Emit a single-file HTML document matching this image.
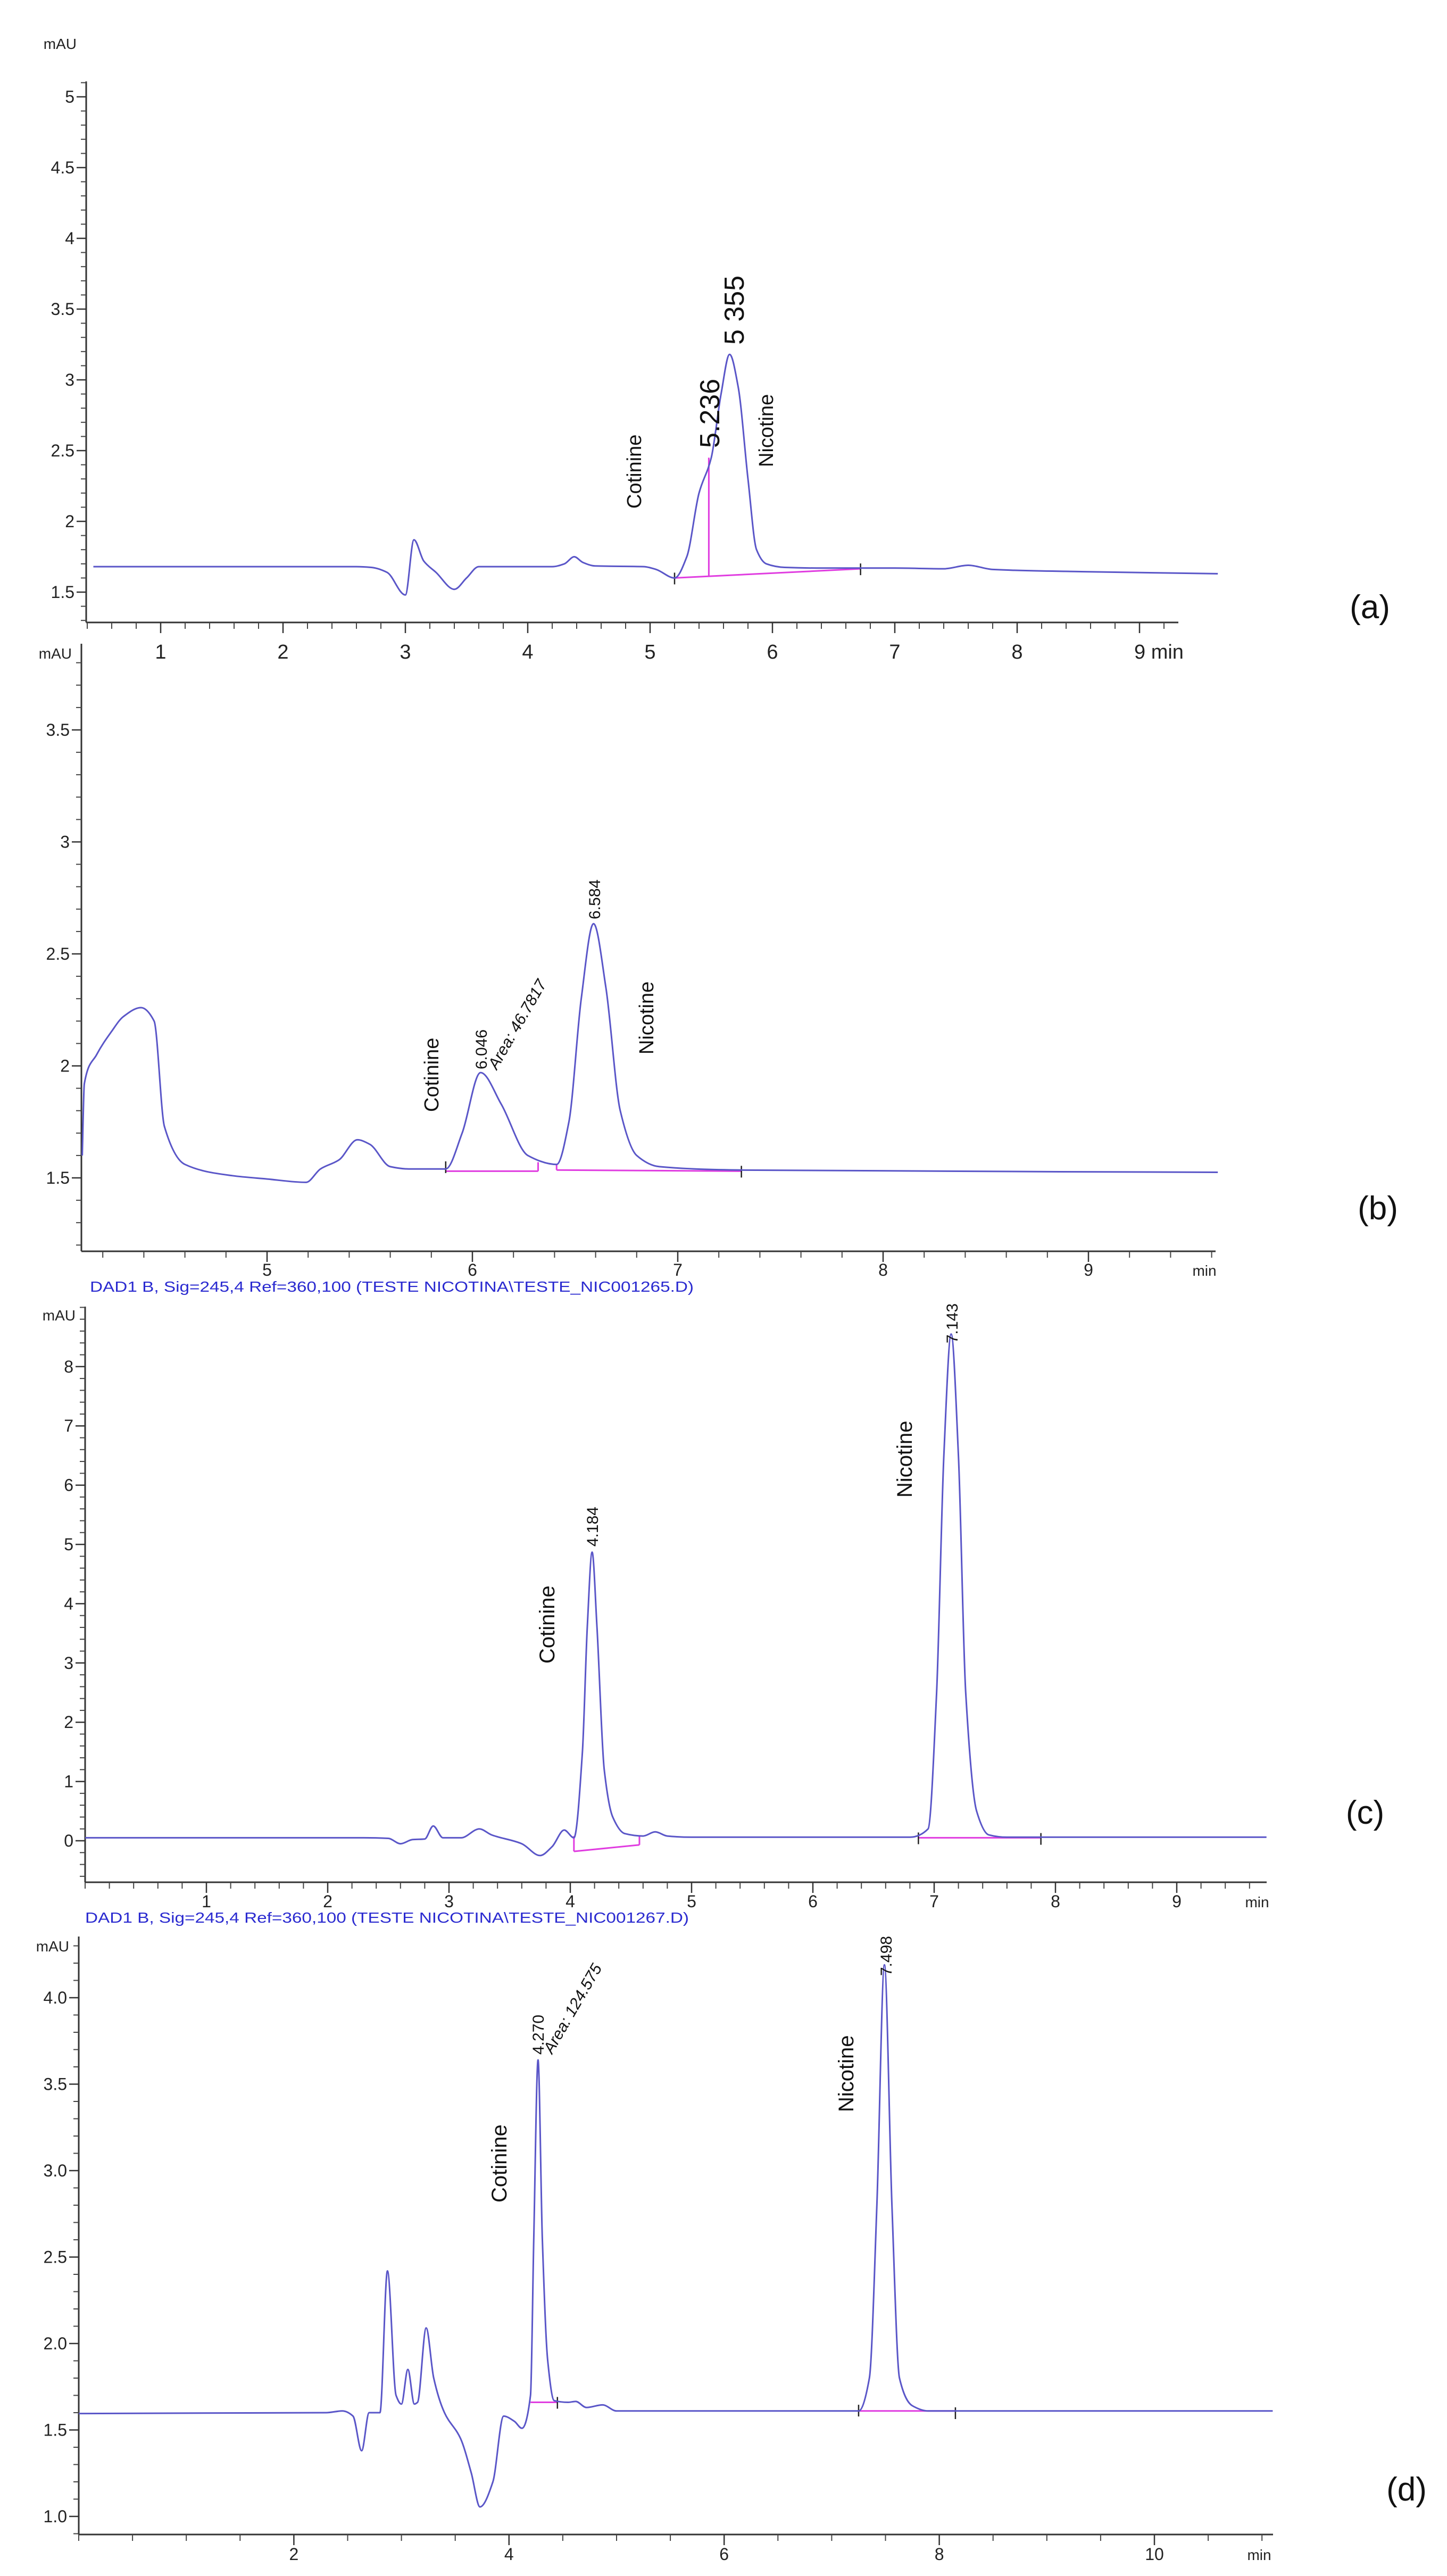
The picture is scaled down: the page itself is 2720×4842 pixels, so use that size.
<!DOCTYPE html>
<html><head><meta charset="utf-8"><title>Chromatograms</title>
<style>
html,body{margin:0;padding:0;background:#fff;}
svg{display:block;}
text{font-family:"Liberation Sans Narrow","Liberation Sans",sans-serif;}
</style></head>
<body>
<svg id="fig" xmlns="http://www.w3.org/2000/svg" width="2720" height="4842" viewBox="0 0 2720 4842"></svg>
<script>
// ---------- Panel (a) data ----------
const aTimes = [0.45,2.6,2.72,2.85,3.0,3.07,3.15,3.25,3.4,3.5,3.6,4.2,4.3,4.38,4.45,4.55,4.95,5.05,5.2,5.3,5.4,5.5,5.58,5.65,5.72,5.8,5.87,5.95,6.1,6.4,7.0,7.4,7.6,7.8,8.5,9.64];
const aValues = [1.68,1.68,1.675,1.64,1.48,1.87,1.72,1.64,1.52,1.6,1.68,1.68,1.7,1.75,1.71,1.685,1.68,1.66,1.6,1.75,2.2,2.45,2.9,3.18,2.95,2.3,1.8,1.7,1.675,1.67,1.67,1.665,1.69,1.66,1.645,1.63];
const aYTicks = [1.5,2,2.5,3,3.5,4,4.5,5];
const aYTickLabels = ["1.5","2","2.5","3","3.5","4","4.5","5"];
const aXTicks = [1,2,3,4,5,6,7,8,9];
const aXTickLabels = ["1","2","3","4","5","6","7","8","9 min"];
// ---------- Panel (b) data ----------
const bTimes = [4.10,4.11,4.17,4.24,4.3,4.386,4.45,4.5,4.6,4.83,5.0,5.19,5.26,5.35,5.44,5.5,5.6,5.69,5.87,5.95,6.04,6.14,6.27,6.41,6.47,6.53,6.59,6.65,6.72,6.8,6.91,7.31,9.63];
const bValues = [1.6,1.92,2.05,2.15,2.22,2.26,2.2,1.73,1.56,1.51,1.495,1.48,1.54,1.58,1.67,1.65,1.55,1.54,1.54,1.7,1.97,1.83,1.6,1.56,1.75,2.3,2.635,2.35,1.8,1.6,1.55,1.535,1.525];
const bYTicks = [1.5,2,2.5,3,3.5];
const bYTickLabels = ["1.5","2","2.5","3","3.5"];
const bXTicks = [5,6,7,8,9];
const bXTickLabels = ["5","6","7","8","9"];
// ---------- Panel (c) data ----------
const cTimes = [0,2.3,2.5,2.6,2.7,2.8,2.87,2.95,3.1,3.25,3.35,3.6,3.75,3.85,3.95,4.03,4.1,4.14,4.18,4.22,4.28,4.35,4.45,4.6,4.7,4.8,5.0,6.8,6.95,7.02,7.08,7.14,7.2,7.26,7.35,7.45,7.6,9.74];
const cValues = [0.05,0.05,0.04,-0.05,0.02,0.03,0.25,0.05,0.05,0.2,0.1,-0.05,-0.25,-0.1,0.18,0.05,1.5,3.6,4.87,3.6,1.2,0.4,0.12,0.08,0.15,0.08,0.06,0.06,0.2,2.5,6.5,8.55,6.5,2.5,0.5,0.1,0.06,0.06];
const cYTicks = [0,1,2,3,4,5,6,7,8];
const cYTickLabels = ["0","1","2","3","4","5","6","7","8"];
const cXTicks = [1,2,3,4,5,6,7,8,9];
const cXTickLabels = ["1","2","3","4","5","6","7","8","9"];
// ---------- Panel (d) data ----------
const dTimes = [0,2.3,2.45,2.55,2.63,2.7,2.8,2.87,2.95,3.0,3.06,3.12,3.15,3.23,3.3,3.4,3.55,3.65,3.73,3.85,3.95,4.05,4.12,4.2,4.23,4.27,4.31,4.36,4.42,4.55,4.62,4.72,4.87,5.0,7.25,7.35,7.42,7.49,7.56,7.63,7.75,7.9,11.1];
const dValues = [1.595,1.6,1.61,1.58,1.38,1.6,1.6,2.42,1.7,1.65,1.85,1.65,1.66,2.09,1.8,1.6,1.45,1.25,1.055,1.2,1.58,1.55,1.51,1.7,2.6,3.64,2.6,1.9,1.67,1.66,1.665,1.63,1.645,1.61,1.61,1.8,2.8,4.19,2.8,1.8,1.64,1.61,1.61];
const dYTicks = [1.0,1.5,2.0,2.5,3.0,3.5,4.0];
const dYTickLabels = ["1.0","1.5","2.0","2.5","3.0","3.5","4.0"];
const dXTicks = [2,4,6,8,10];
const dXTickLabels = ["2","4","6","8","10"];

const NS = "http://www.w3.org/2000/svg";
const svg = document.getElementById('fig');
function mk(tag, attrs, parent){
  const e = document.createElementNS(NS, tag);
  for (const k in attrs) e.setAttribute(k, attrs[k]);
  (parent||svg).appendChild(e);
  return e;
}
// monotone cubic (Fritsch-Carlson) path in pixel space
function monotonePath(pts){
  const n = pts.length;
  const dx=[], m=[], s=[];
  for (let i=0;i<n-1;i++){ dx[i]=pts[i+1][0]-pts[i][0]; s[i]=(pts[i+1][1]-pts[i][1])/dx[i]; }
  m[0]=s[0]; m[n-1]=s[n-2];
  for (let i=1;i<n-1;i++){
    if (s[i-1]*s[i]<=0) m[i]=0;
    else { const w1=2*dx[i]+dx[i-1], w2=dx[i]+2*dx[i-1]; m[i]=(w1+w2)/(w1/s[i-1]+w2/s[i]); }
  }
  let d="M"+pts[0][0].toFixed(1)+","+pts[0][1].toFixed(1);
  for (let i=0;i<n-1;i++){
    const h=dx[i];
    d+=" C"+(pts[i][0]+h/3).toFixed(1)+","+(pts[i][1]+m[i]*h/3).toFixed(1)+" "+
       (pts[i+1][0]-h/3).toFixed(1)+","+(pts[i+1][1]-m[i+1]*h/3).toFixed(1)+" "+
       pts[i+1][0].toFixed(1)+","+pts[i+1][1].toFixed(1);
  }
  return d;
}

function panel(cfg){
  const g = mk('g', {});
  
  
  const X = t => cfg.x0 + (t - cfg.t0) * cfg.pxPerMin;
  const Y = v => cfg.yRef - (v - cfg.vRef) * cfg.pxPerUnit;
  const ya = mk('line', {x1:cfg.axL, y1:cfg.axT, x2:cfg.axL, y2:cfg.axB, stroke:'#333', 'stroke-width':3}, g);
  
  
  const xa = mk('line', {x1:cfg.axL, y1:cfg.axB, x2:cfg.axR, y2:cfg.axB, stroke:'#333', 'stroke-width':3}, g);
  
  
  const vLo = cfg.vRef + (cfg.yRef - cfg.axB)/cfg.pxPerUnit, vHi = cfg.vRef + (cfg.yRef - cfg.axT)/cfg.pxPerUnit;
  for (let k=Math.ceil(vLo/cfg.yMinor-1e-6); k*cfg.yMinor<=vHi; k++){
    const y = Y(k*cfg.yMinor);
    mk('line', {x1:cfg.axL-10, y1:y, x2:cfg.axL, y2:y, stroke:'#444', 'stroke-width':2}, g);
  }
  cfg.yTicks.forEach((v,i)=>{
    const y = Y(v);
    mk('line', {x1:cfg.axL-18, y1:y, x2:cfg.axL, y2:y, stroke:'#333', 'stroke-width':2.5}, g);
    const t = mk('text', {x:cfg.axL-22, y:y+11, 'font-size':cfg.tickFont, 'text-anchor':'end', fill:'#222'}, g);
    t.textContent = cfg.yTickLabels[i];
    
    
  });
  const mau = mk('text', {x:cfg.axL-18, y:cfg.mauY, 'font-size':cfg.tickFont-4, 'text-anchor':'end', fill:'#222'}, g);
  mau.textContent = 'mAU';
  
  
  const tLo = cfg.t0 + (cfg.axL - cfg.x0)/cfg.pxPerMin, tHi = cfg.t0 + (cfg.axR - cfg.x0)/cfg.pxPerMin;
  for (let k=Math.ceil(tLo/cfg.xMinor-1e-6); k*cfg.xMinor<=tHi; k++){
    const x = X(k*cfg.xMinor);
    mk('line', {x1:x, y1:cfg.axB, x2:x, y2:cfg.axB+12, stroke:'#444', 'stroke-width':2}, g);
  }
  cfg.xTicks.forEach((tv,i)=>{
    const x = X(tv);
    mk('line', {x1:x, y1:cfg.axB, x2:x, y2:cfg.axB+20, stroke:'#333', 'stroke-width':2.5}, g);
    const lab = cfg.xTickLabels[i];
    const t = mk('text', {x:x, y:cfg.xLabY, 'font-size':cfg.xTickFont, 'text-anchor': lab.indexOf('min')>=0 ? 'start':'middle', fill:'#222'}, g);
    if (lab.indexOf('min')>=0) t.setAttribute('x', x-10);
    t.textContent = lab;
    
    
  });
  if (cfg.minX){
    const t = mk('text', {x:cfg.minX, y:cfg.xLabY, 'font-size':cfg.tickFont-4, 'text-anchor':'middle', fill:'#222'}, g);
    t.textContent = 'min';
    
    
  }
  cfg.baselines.forEach(b=>{
    const l = mk('line', {x1:X(b[0]), y1:Y(b[1]), x2:X(b[2]), y2:Y(b[3]), stroke:'#e03ce0', 'stroke-width':3}, g);
    
    
  });
  cfg.marks.forEach(m=>{
    mk('line', {x1:X(m[0]), y1:Y(m[1])-10, x2:X(m[0]), y2:Y(m[1])+12, stroke:'#222', 'stroke-width':2.5}, g);
  });
  const pts = cfg.times.map((t,i)=>[X(t), Y(cfg.values[i])]);
  const p = mk('path', {d:monotonePath(pts), fill:'none', stroke:'#5a56c8', 'stroke-width':3, 'stroke-linejoin':'round'}, g);
  
  
  cfg.labels.forEach(L=>{
    const t = mk('text', {x:0, y:0, 'font-size':L.size, fill:'#111', 'text-anchor':'start',
      transform:'translate('+L.x+','+L.y+') rotate('+L.rot+')', 'font-family':L.font||'"Liberation Sans",sans-serif', 'font-style':L.italic?'italic':'normal'}, g);
    t.textContent = L.text;
    
    
  });
  const pl = mk('text', {x:cfg.plX, y:cfg.plY, 'font-size':62, 'text-anchor':'middle', fill:'#111', 'font-family':'"Liberation Sans",sans-serif'}, g);
  pl.textContent = cfg.panelLabel;
  
  
}

panel({name:'panel-a', x0:302, t0:1, pxPerMin:230, yRef:1113, vRef:1.5, pxPerUnit:266,
  axL:162, axR:2215, axT:153, axB:1170, yMinor:0.1, xMinor:0.2, tickFont:32, xTickFont:38, xLabY:1238, mauY:92,
  times:aTimes, values:aValues, yTicks:aYTicks, yTickLabels:aYTickLabels, xTicks:aXTicks, xTickLabels:aXTickLabels,
  baselines:[[5.2,1.6,6.72,1.665],[5.48,1.61,5.48,2.45]], marks:[[5.2,1.6],[6.72,1.665]],
  labels:[
    {text:'5 355', x:1398, y:648, rot:-90, size:52, dn:'peak-label-5355'},
    {text:'5.236', x:1352, y:842, rot:-90, size:52, dn:'peak-label-5236'},
    {text:'Cotinine', x:1205, y:956, rot:-90, size:38, dn:'cotinine-label'},
    {text:'Nicotine', x:1453, y:878, rot:-90, size:38, dn:'nicotine-label'}],
  panelLabel:'(a)', plX:2575, plY:1162});

panel({name:'panel-b', x0:502, t0:5, pxPerMin:386, yRef:2214, vRef:1.5, pxPerUnit:421,
  axL:153, axR:2285, axT:1210, axB:2352, yMinor:0.1, xMinor:0.2, tickFont:32, xTickFont:32, xLabY:2398, mauY:1238, minX:2264,
  times:bTimes, values:bValues, yTicks:bYTicks, yTickLabels:bYTickLabels, xTicks:bXTicks, xTickLabels:bXTickLabels,
  baselines:[[5.87,1.53,6.32,1.53],[6.32,1.53,6.32,1.57],[6.41,1.535,7.31,1.53],[6.41,1.535,6.41,1.56]], marks:[[5.87,1.55],[7.31,1.53]],
  labels:[
    {text:'6.584', x:1128, y:1728, rot:-90, size:30, dn:'peak-label-6584'},
    {text:'6.046', x:915, y:2010, rot:-90, size:30, dn:'peak-label-6046'},
    {text:'Area: 46.7817', x:934, y:2012, rot:-60, size:30, italic:true, dn:'area-label'},
    {text:'Cotinine', x:824, y:2090, rot:-90, size:38, dn:'cotinine-label'},
    {text:'Nicotine', x:1228, y:1982, rot:-90, size:38, dn:'nicotine-label'}],
  panelLabel:'(b)', plX:2590, plY:2292});

panel({name:'panel-c', x0:160, t0:0, pxPerMin:228, yRef:3460, vRef:0, pxPerUnit:111.4,
  axL:160, axR:2381, axT:2456, axB:3538, yMinor:0.2, xMinor:0.2, tickFont:32, xTickFont:32, xLabY:3585, mauY:2482, minX:2363,
  times:cTimes, values:cValues, yTicks:cYTicks, yTickLabels:cYTickLabels, xTicks:cXTicks, xTickLabels:cXTickLabels,
  baselines:[[4.03,-0.18,4.57,-0.07],[4.03,0.08,4.03,-0.18],[4.57,-0.07,4.57,0.08],[6.87,0.05,7.88,0.05]], marks:[[6.87,0.05],[7.88,0.04]],
  labels:[
    {text:'4.184', x:1124, y:2907, rot:-90, size:30, dn:'peak-label-4184'},
    {text:'7.143', x:1800, y:2525, rot:-90, size:30, dn:'peak-label-7143'},
    {text:'Cotinine', x:1042, y:3127, rot:-90, size:40, dn:'cotinine-label'},
    {text:'Nicotine', x:1714, y:2815, rot:-90, size:40, dn:'nicotine-label'}],
  panelLabel:'(c)', plX:2566, plY:3428});

panel({name:'panel-d', x0:148, t0:0, pxPerMin:202.2, yRef:4730, vRef:1.0, pxPerUnit:325,
  axL:148, axR:2393, axT:3640, axB:4764, yMinor:0.1, xMinor:0.5, tickFont:32, xTickFont:32, xLabY:4812, mauY:3668, minX:2367,
  times:dTimes, values:dValues, yTicks:dYTicks, yTickLabels:dYTickLabels, xTicks:dXTicks, xTickLabels:dXTickLabels,
  baselines:[[4.2,1.66,4.45,1.66],[7.25,1.61,8.15,1.61]], marks:[[4.45,1.66],[7.25,1.615],[8.15,1.6]],
  labels:[
    {text:'4.270', x:1022, y:3862, rot:-90, size:30, dn:'peak-label-4270'},
    {text:'Area: 124.575', x:1038, y:3862, rot:-60, size:30, italic:true, dn:'area-label'},
    {text:'7.498', x:1676, y:3714, rot:-90, size:30, dn:'peak-label-7498'},
    {text:'Cotinine', x:952, y:4140, rot:-90, size:40, dn:'cotinine-label'},
    {text:'Nicotine', x:1604, y:3970, rot:-90, size:40, dn:'nicotine-label'}],
  panelLabel:'(d)', plX:2644, plY:4700});

[["DAD1 B, Sig=245,4 Ref=360,100 (TESTE NICOTINA\\TESTE_NIC001265.D)", 169, 2428],
 ["DAD1 B, Sig=245,4 Ref=360,100 (TESTE NICOTINA\\TESTE_NIC001267.D)", 160, 3614]].forEach(c=>{
  const t = mk('text', {x:c[1], y:c[2], 'font-size':28, fill:'#2a2ad0', textLength:1135, lengthAdjust:'spacingAndGlyphs'});
  t.textContent = c[0];
  
  
});
</script>
</body></html>
